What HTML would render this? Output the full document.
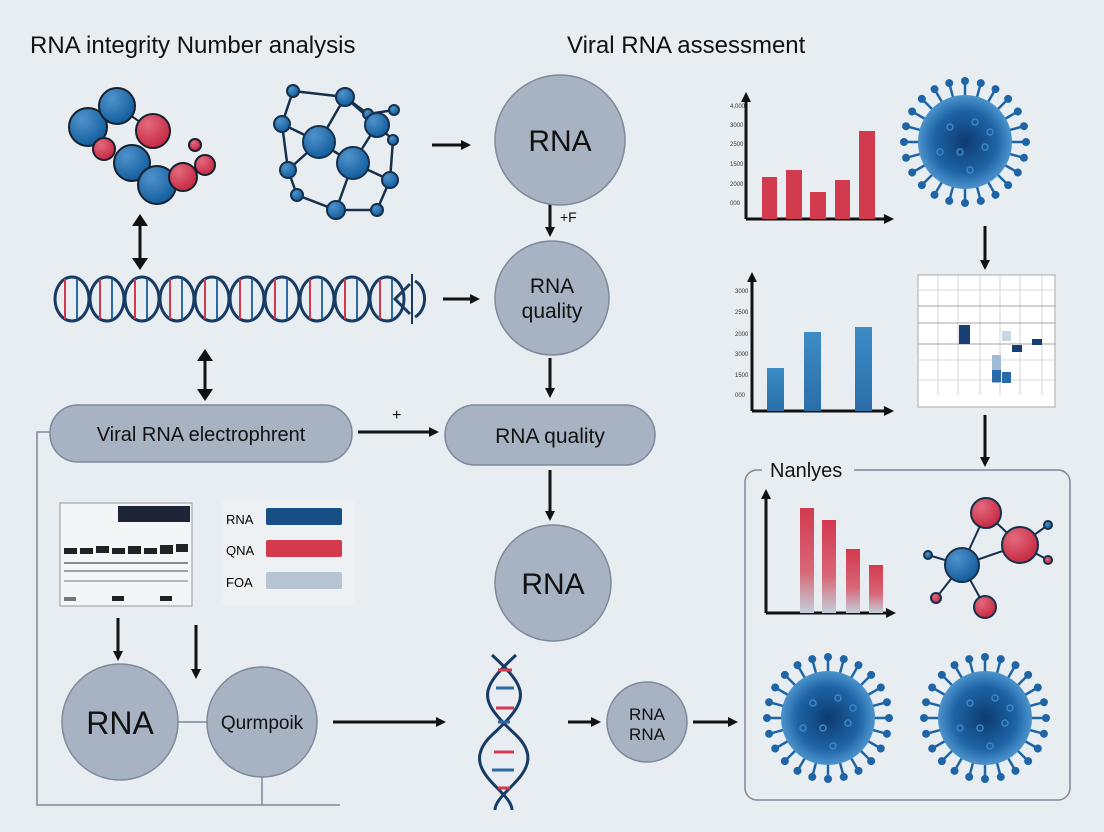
<!DOCTYPE html>
<html><head><meta charset="utf-8"><style>
body{margin:0;background:#e8edf1;}
svg{display:block;font-family:"Liberation Sans",sans-serif;}
</style></head><body>
<svg width="1104" height="832" viewBox="0 0 1104 832" xmlns="http://www.w3.org/2000/svg">
<defs>
<radialGradient id="bl" cx="35%" cy="30%" r="70%"><stop offset="0" stop-color="#4f93cc"/><stop offset="1" stop-color="#145e9e"/></radialGradient>
<radialGradient id="rd" cx="35%" cy="30%" r="70%"><stop offset="0" stop-color="#e36a7c"/><stop offset="1" stop-color="#c72a44"/></radialGradient>
<radialGradient id="vir" cx="50%" cy="50%" r="55%"><stop offset="0" stop-color="#0d3b6e"/><stop offset="0.6" stop-color="#1d63a6"/><stop offset="1" stop-color="#5aa2d8"/></radialGradient>
<linearGradient id="rg" x1="0" y1="0" x2="0" y2="1"><stop offset="0" stop-color="#d3394f"/><stop offset="0.6" stop-color="#d86676"/><stop offset="1" stop-color="#c3cfdb"/></linearGradient>
<linearGradient id="bg" x1="0" y1="0" x2="0" y2="1"><stop offset="0" stop-color="#3d8cc6"/><stop offset="1" stop-color="#2a6ea8"/></linearGradient>
<marker id="ah" markerWidth="10" markerHeight="10" refX="7" refY="5" orient="auto" markerUnits="userSpaceOnUse"><path d="M0,0 L10,5 L0,10 z" fill="#111"/></marker>
<g id="spike"><line x1="0" y1="-46" x2="0" y2="-60" stroke="#1f65a6" stroke-width="2.5"/><circle cx="0" cy="-61" r="4" fill="#1f65a6"/></g>
<g id="virus">
<use href="#spike" transform="rotate(0)"/><use href="#spike" transform="rotate(15)"/><use href="#spike" transform="rotate(30)"/><use href="#spike" transform="rotate(45)"/><use href="#spike" transform="rotate(60)"/><use href="#spike" transform="rotate(75)"/><use href="#spike" transform="rotate(90)"/><use href="#spike" transform="rotate(105)"/><use href="#spike" transform="rotate(120)"/><use href="#spike" transform="rotate(135)"/><use href="#spike" transform="rotate(150)"/><use href="#spike" transform="rotate(165)"/><use href="#spike" transform="rotate(180)"/><use href="#spike" transform="rotate(195)"/><use href="#spike" transform="rotate(210)"/><use href="#spike" transform="rotate(225)"/><use href="#spike" transform="rotate(240)"/><use href="#spike" transform="rotate(255)"/><use href="#spike" transform="rotate(270)"/><use href="#spike" transform="rotate(285)"/><use href="#spike" transform="rotate(300)"/><use href="#spike" transform="rotate(315)"/><use href="#spike" transform="rotate(330)"/><use href="#spike" transform="rotate(345)"/>
<circle r="47" fill="url(#vir)"/>
<g fill="none" stroke="#3d87c6" stroke-width="1.5"><circle cx="-15" cy="-15" r="3"/><circle cx="10" cy="-20" r="3"/><circle cx="20" cy="5" r="3"/><circle cx="-5" cy="10" r="3"/><circle cx="-25" cy="10" r="3"/><circle cx="5" cy="28" r="3"/><circle cx="25" cy="-10" r="3"/></g>
</g>
<g id="loop"><ellipse cx="17" cy="0" rx="17" ry="22" fill="none" stroke="#173b63" stroke-width="3"/><line x1="10" y1="-20" x2="10" y2="20" stroke="#d33a50" stroke-width="2"/><line x1="22" y1="-20" x2="22" y2="20" stroke="#2d6aa2" stroke-width="2"/></g>
</defs>

<text x="30" y="53" font-size="24" fill="#111">RNA integrity Number analysis</text>
<text x="567" y="53" font-size="24" fill="#111">Viral RNA assessment</text>

<g stroke="#16202c" stroke-width="2">
<line x1="117" y1="106" x2="153" y2="131"/>
<circle cx="88" cy="127" r="19" fill="url(#bl)"/><circle cx="117" cy="106" r="18" fill="url(#bl)"/><circle cx="153" cy="131" r="17" fill="url(#rd)"/>
<circle cx="104" cy="149" r="11" fill="url(#rd)"/><circle cx="132" cy="163" r="18" fill="url(#bl)"/><circle cx="157" cy="185" r="19" fill="url(#bl)"/>
<circle cx="183" cy="177" r="14" fill="url(#rd)"/><circle cx="205" cy="165" r="10" fill="url(#rd)"/><circle cx="195" cy="145" r="6" fill="url(#rd)"/>
</g>
<g stroke="#16304c" stroke-width="2.5" fill="none">
<path d="M293,91 L345,97 L377,125 L393,140 L390,180 L377,210 L336,210 L297,195 L288,170 L282,124 L293,91"/>
<path d="M282,124 L319,142 L353,163 L390,180 M345,97 L319,142 M377,125 L353,163 L336,210 M288,170 L319,142 M345,97 L368,114 L394,110"/>
</g>
<g stroke="#16304c" stroke-width="2" fill="url(#bl)">
<circle cx="293" cy="91" r="6"/><circle cx="345" cy="97" r="9"/><circle cx="368" cy="114" r="5"/><circle cx="377" cy="125" r="12"/><circle cx="394" cy="110" r="5"/><circle cx="393" cy="140" r="5"/><circle cx="282" cy="124" r="8"/><circle cx="319" cy="142" r="16"/><circle cx="353" cy="163" r="16"/><circle cx="288" cy="170" r="8"/><circle cx="390" cy="180" r="8"/><circle cx="297" cy="195" r="6"/><circle cx="336" cy="210" r="9"/><circle cx="377" cy="210" r="6"/>
</g>

<g stroke="#111" stroke-width="3" fill="none" marker-end="url(#ah)">
<line x1="432" y1="145" x2="468" y2="145"/>
<line x1="550" y1="203" x2="550" y2="234"/>
<line x1="550" y1="358" x2="550" y2="395"/>
<line x1="550" y1="470" x2="550" y2="518"/>
<line x1="443" y1="299" x2="477" y2="299"/>
<line x1="358" y1="432" x2="436" y2="432"/>
<line x1="118" y1="618" x2="118" y2="658"/>
<line x1="196" y1="625" x2="196" y2="676"/>
<line x1="333" y1="722" x2="443" y2="722"/>
<line x1="568" y1="722" x2="598" y2="722"/>
<line x1="693" y1="722" x2="735" y2="722"/>
<line x1="985" y1="226" x2="985" y2="267"/>
<line x1="985" y1="415" x2="985" y2="464"/>
</g>
<!-- double arrows -->
<g stroke="#111" stroke-width="3"><line x1="140" y1="222" x2="140" y2="262"/><line x1="205" y1="357" x2="205" y2="393"/></g>
<g fill="#111">
<path d="M132,226 L140,214 L148,226 z"/><path d="M132,258 L140,270 L148,258 z"/>
<path d="M197,361 L205,349 L213,361 z"/><path d="M197,389 L205,401 L213,389 z"/>
</g>
<text x="560" y="222" font-size="14" fill="#111">+F</text>
<text x="392" y="420" font-size="16" fill="#111">+</text>

<g transform="translate(55,299)">
<use href="#loop" x="0"/><use href="#loop" x="35"/><use href="#loop" x="70"/><use href="#loop" x="105"/><use href="#loop" x="140"/><use href="#loop" x="175"/><use href="#loop" x="210"/><use href="#loop" x="245"/><use href="#loop" x="280"/><use href="#loop" x="315"/>
<path d="M355,-15 L340,0 L355,15" fill="none" stroke="#173b63" stroke-width="3"/>
<line x1="357" y1="-25" x2="357" y2="25" stroke="#173b63" stroke-width="2"/>
<path d="M360,-18 A17,20 0 0 1 360,18" fill="none" stroke="#173b63" stroke-width="3"/>
</g>

<g fill="#a7b3c2" stroke="#7d8a9b" stroke-width="1.5">
<circle cx="560" cy="140" r="65"/>
<circle cx="552" cy="298" r="57"/>
<circle cx="553" cy="583" r="58"/>
<circle cx="647" cy="722" r="40"/>
<circle cx="120" cy="722" r="58"/>
<circle cx="262" cy="722" r="55"/>
<rect x="445" y="405" width="210" height="60" rx="30"/>
<rect x="50" y="405" width="302" height="57" rx="28"/>
</g>
<g fill="#111" text-anchor="middle">
<text x="560" y="151" font-size="30">RNA</text>
<text x="552" y="293" font-size="21">RNA</text><text x="552" y="318" font-size="21">quality</text>
<text x="550" y="443" font-size="21">RNA quality</text>
<text x="553" y="594" font-size="30">RNA</text>
<text x="647" y="720" font-size="17">RNA</text><text x="647" y="740" font-size="17">RNA</text>
<text x="120" y="734" font-size="32">RNA</text>
<text x="262" y="729" font-size="19">Qurmpoik</text>
<text x="201" y="441" font-size="20">Viral RNA electrophrent</text>
</g>

<g stroke="#7d8a9b" stroke-width="1.5" fill="none">
<path d="M50,432 L37,432 L37,805 L340,805"/>
<line x1="262" y1="777" x2="262" y2="805"/>
<line x1="178" y1="722" x2="207" y2="722"/>
</g>

<rect x="60" y="503" width="132" height="103" fill="#f4f5f6" stroke="#999"/>
<rect x="118" y="506" width="72" height="16" fill="#1e2538"/>
<g fill="#222">
<rect x="64" y="548" width="13" height="6"/><rect x="80" y="548" width="13" height="6"/><rect x="96" y="546" width="13" height="7"/><rect x="112" y="548" width="13" height="6"/><rect x="128" y="546" width="13" height="8"/><rect x="144" y="548" width="13" height="6"/><rect x="160" y="545" width="13" height="9"/><rect x="176" y="544" width="12" height="8"/>
<rect x="64" y="562" width="124" height="2" opacity="0.5"/><rect x="64" y="570" width="124" height="2" opacity="0.4"/><rect x="64" y="580" width="124" height="2" opacity="0.3"/>
<rect x="64" y="597" width="12" height="4" opacity="0.6"/><rect x="112" y="596" width="12" height="5"/><rect x="160" y="596" width="12" height="5"/>
</g>
<rect x="222" y="500" width="133" height="105" fill="#eef1f4"/>
<text x="226" y="524" font-size="13">RNA</text><rect x="266" y="508" width="76" height="17" rx="2" fill="#174e86"/>
<text x="226" y="555" font-size="13">QNA</text><rect x="266" y="540" width="76" height="17" rx="2" fill="#d43a4c"/>
<text x="226" y="587" font-size="13">FOA</text><rect x="266" y="572" width="76" height="17" rx="2" fill="#b6c3d2"/>

<g fill="none" stroke-width="3">
<path d="M492,655 C530,690 530,700 492,735 C455,770 512,790 512,810" stroke="#173b63"/>
<path d="M516,655 C478,690 478,700 516,735 C552,770 495,790 495,810" stroke="#173b63"/>
</g>
<g stroke-width="3">
<line x1="498" y1="670" x2="512" y2="670" stroke="#d33a50"/><line x1="496" y1="688" x2="514" y2="688" stroke="#2d6aa2"/><line x1="496" y1="708" x2="514" y2="708" stroke="#d33a50"/><line x1="498" y1="722" x2="510" y2="722" stroke="#2d6aa2"/><line x1="494" y1="752" x2="514" y2="752" stroke="#d33a50"/><line x1="492" y1="770" x2="514" y2="770" stroke="#2d6aa2"/><line x1="498" y1="788" x2="510" y2="788" stroke="#d33a50"/>
</g>

<g stroke="#111" stroke-width="3" fill="none" marker-end="url(#ah)">
<line x1="746" y1="219" x2="746" y2="95"/><line x1="746" y1="219" x2="891" y2="219"/>
<line x1="752" y1="411" x2="752" y2="275"/><line x1="752" y1="411" x2="891" y2="411"/>
<line x1="766" y1="613" x2="766" y2="492"/><line x1="766" y1="613" x2="893" y2="613"/>
</g>
<g fill="#d23a4e">
<rect x="762" y="177" width="15" height="42"/><rect x="786" y="170" width="16" height="49"/><rect x="810" y="192" width="16" height="27"/><rect x="835" y="180" width="15" height="39"/><rect x="859" y="131" width="16" height="88"/>
</g>
<g fill="url(#bg)">
<rect x="767" y="368" width="17" height="43"/><rect x="804" y="332" width="17" height="79"/><rect x="855" y="327" width="17" height="84"/>
</g>
<g fill="url(#rg)">
<rect x="800" y="508" width="14" height="105"/><rect x="822" y="520" width="14" height="93"/><rect x="846" y="549" width="14" height="64"/><rect x="869" y="565" width="14" height="48"/>
</g>
<g font-size="6" fill="#333"><text x="730" y="108">4,000</text><text x="730" y="127">3000</text><text x="730" y="146">2500</text><text x="730" y="166">1500</text><text x="730" y="186">2000</text><text x="730" y="205">000</text>
<text x="735" y="293">3000</text><text x="735" y="314">2500</text><text x="735" y="336">2000</text><text x="735" y="356">3000</text><text x="735" y="377">1500</text><text x="735" y="397">000</text></g>

<rect x="918" y="275" width="137" height="132" fill="#fff" stroke="#aaa"/>
<g stroke="#ccc" stroke-width="0.8">
<line x1="938" y1="275" x2="938" y2="395"/><line x1="958" y1="275" x2="958" y2="395"/><line x1="980" y1="275" x2="980" y2="395"/><line x1="1000" y1="275" x2="1000" y2="395"/><line x1="1020" y1="275" x2="1020" y2="395"/><line x1="1042" y1="275" x2="1042" y2="395"/>
<line x1="918" y1="306" x2="1055" y2="306" stroke="#888"/><line x1="918" y1="323" x2="1055" y2="323" stroke="#888"/><line x1="918" y1="344" x2="1055" y2="344" stroke="#888"/><line x1="918" y1="290" x2="1055" y2="290"/><line x1="918" y1="360" x2="1055" y2="360"/><line x1="918" y1="380" x2="1055" y2="380"/>
</g>
<rect x="959" y="325" width="11" height="19" fill="#173f75"/><rect x="1012" y="345" width="10" height="7" fill="#173f75"/><rect x="1032" y="339" width="10" height="6" fill="#173f75"/>
<rect x="992" y="355" width="9" height="28" fill="#9fbbd8"/><rect x="992" y="370" width="9" height="12" fill="#2a6aa8"/><rect x="1002" y="372" width="9" height="11" fill="#2a6aa8"/><rect x="1002" y="331" width="9" height="10" fill="#c8d6e6"/>

<rect x="745" y="470" width="325" height="330" rx="12" fill="none" stroke="#7d8a9b" stroke-width="1.5"/>
<rect x="762" y="458" width="92" height="24" fill="#e8edf1"/>
<text x="770" y="477" font-size="20" fill="#111">Nanlyes</text>

<g stroke="#16304c" stroke-width="2">
<line x1="962" y1="565" x2="986" y2="513"/><line x1="962" y1="565" x2="1020" y2="545"/><line x1="962" y1="565" x2="936" y2="598"/><line x1="962" y1="565" x2="985" y2="607"/><line x1="962" y1="565" x2="928" y2="555"/><line x1="1020" y1="545" x2="1048" y2="525"/><line x1="1020" y1="545" x2="1048" y2="560"/><line x1="986" y1="513" x2="1020" y2="545"/>
<circle cx="986" cy="513" r="15" fill="url(#rd)"/><circle cx="1020" cy="545" r="18" fill="url(#rd)"/><circle cx="962" cy="565" r="17" fill="url(#bl)"/><circle cx="985" cy="607" r="11" fill="url(#rd)"/><circle cx="936" cy="598" r="5" fill="url(#rd)"/><circle cx="928" cy="555" r="4" fill="url(#bl)"/><circle cx="1048" cy="525" r="4" fill="url(#bl)"/><circle cx="1048" cy="560" r="4" fill="url(#rd)"/>
</g>

<use href="#virus" transform="translate(965,142)"/>
<use href="#virus" transform="translate(828,718)"/>
<use href="#virus" transform="translate(985,718)"/>
</svg>
</body></html>
